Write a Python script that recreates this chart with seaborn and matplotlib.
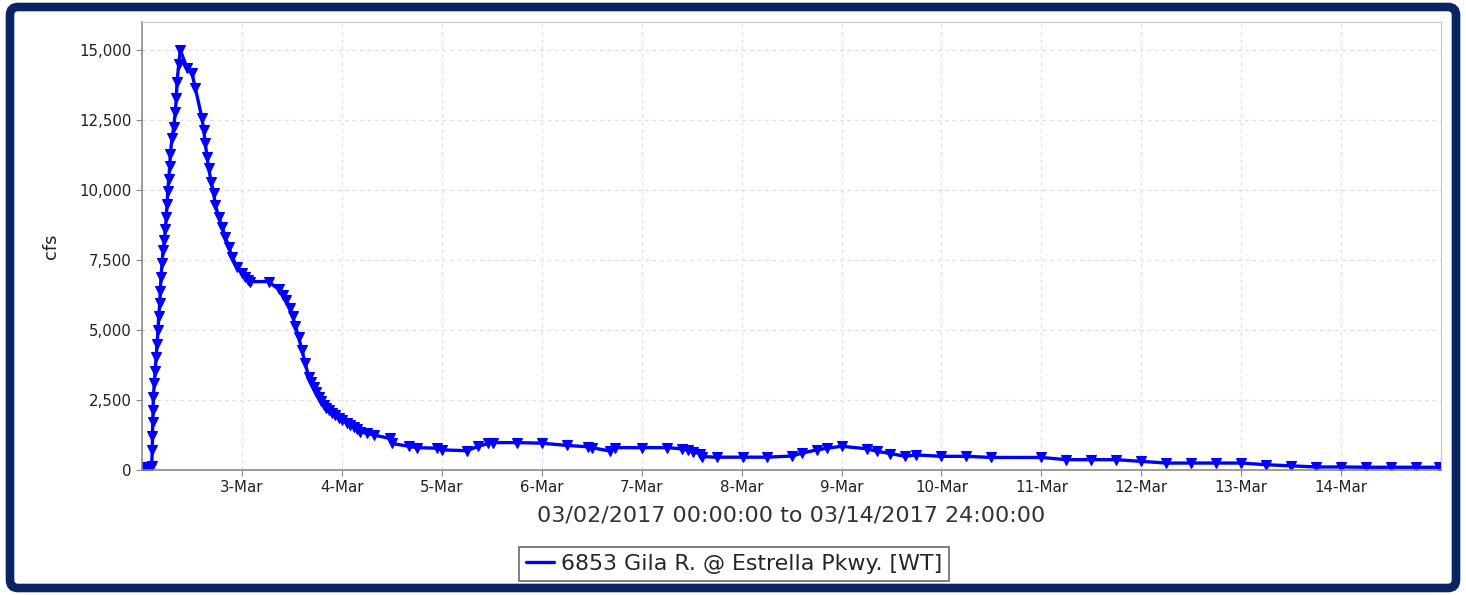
import numpy as np
import pandas as pd
import seaborn as sns
import matplotlib.pyplot as plt
from matplotlib.ticker import FuncFormatter
from matplotlib.patches import FancyBboxPatch
from matplotlib.lines import Line2D

# hours after 03/02/2017 00:00 and flow in cfs
hours = [0.3, 1.0, 1.7, 2.3, 2.45, 2.5, 2.57, 2.64, 2.71, 2.95, 3.19, 3.43, 3.6, 3.84,
         4.0, 4.25, 4.39, 4.56, 4.8, 5.04, 5.35, 5.59, 5.83, 6.0, 6.17, 6.41, 6.65, 6.79,
         7.2, 7.61, 7.99, 8.23, 8.4, 8.81, 9.19, 10.8, 12.0, 12.8, 14.4, 14.8, 15.2, 15.6,
         16.0, 16.6, 17.2, 17.6, 18.4, 19.2, 20.0, 20.8, 21.6, 22.8, 24.0, 24.8, 25.4, 26.0,
         30.4, 32.8, 33.8, 34.6, 35.6, 36.2, 36.8, 37.6, 38.4, 39.2, 40.0, 40.6, 41.2, 41.8,
         42.4, 43.0, 43.6, 44.2, 44.8, 45.6, 46.4, 47.2, 48.0, 49.2, 50.0, 50.8, 51.6, 52.4,
         54.0, 55.6, 59.6, 60.0, 64.0, 66.0, 70.8, 72.0, 78.0, 80.8, 83.2, 84.4, 90.0, 96.0,
         102.0, 107.2, 108.0, 112.4, 113.6, 120.0, 126.0, 129.6, 131.2, 132.4, 134.0, 134.4,
         138.0, 144.4, 150.0, 156.1, 158.4, 162.0, 164.6, 168.0, 174.0, 176.5, 179.7, 183.3,
         185.9, 192.0, 198.0, 204.0, 216.0, 222.0, 228.0, 234.0, 240.0, 246.0, 252.0, 258.0,
         264.0, 270.0, 276.0, 282.0, 288.0, 294.0, 300.0, 306.0, 311.5]
cfs = [120, 110, 100, 130, 700, 1200, 1700, 2150, 2600, 3100, 3550, 4050, 4500, 5000,
       5500, 5950, 6400, 6900, 7400, 7850, 8200, 8600, 9050, 9500, 9950, 10400, 10850, 11300,
       11850, 12250, 12800, 13300, 13850, 14500, 15000, 14350, 14170, 13630, 12560, 12140, 11670, 11190,
       10770, 10300, 9880, 9460, 9050, 8690, 8330, 7980, 7620, 7260, 7020, 6900, 6800, 6730,
       6730, 6450, 6250, 6080, 5780, 5500, 5150, 4760, 4290, 3810, 3330, 3150, 2980, 2800,
       2620, 2450, 2320, 2230, 2140, 2050, 1960, 1870, 1790, 1670, 1600, 1550, 1450, 1370,
       1310, 1250, 1130, 950, 850, 800, 780, 720, 690, 850, 950, 980, 980, 960,
       880, 830, 800, 680, 800, 800, 800, 760, 700, 640, 590, 480,
       460, 460, 460, 500, 600, 720, 780, 850, 760, 670, 590, 490,
       540, 490, 490, 450, 450, 370, 370, 370, 310, 250, 250, 250,
       250, 190, 150, 110, 110, 100, 100, 100, 100]

y_ticks = [0, 2500, 5000, 7500, 10000, 12500, 15000]
series_name = "6853 Gila R. @ Estrella Pkwy. [WT]"
x_title = "03/02/2017 00:00:00 to 03/14/2017 24:00:00"

start = pd.Timestamp("2017-03-02 00:00")
df = pd.DataFrame({"time": start + pd.to_timedelta(hours, unit="h"), "cfs": cfs})

sns.set_style("white")
fig = plt.figure(figsize=(14.66, 5.95), dpi=100)
ax = fig.add_axes([0.0969, 0.210, 0.8861, 0.753])

sns.lineplot(data=df, x="time", y="cfs", ax=ax, color="#0000ff", linewidth=2.4,
             marker="v", markersize=7.5, markeredgecolor="#0000ff", markeredgewidth=0.8,
             sort=False)

ax.set_xlim(start, start + pd.Timedelta(days=13))
ax.set_ylim(0, 16000)
ax.set_yticks(y_ticks)
ax.yaxis.set_major_formatter(FuncFormatter(lambda v, p: f"{v:,.0f}"))
ticks = pd.date_range("2017-03-03", "2017-03-14", freq="D")
ax.set_xticks(ticks)
ax.set_xticklabels([f"{t.day}-Mar" for t in ticks])

ax.grid(True, color="#e0e0e0", linestyle=(0, (3, 3)), linewidth=0.9)
ax.tick_params(axis="both", labelsize=10.8, length=4, width=0.8,
               direction="out", bottom=True, left=True, colors="#888888",
               labelcolor="#222222")
for side in ["top", "right"]:
    ax.spines[side].set_color("#c8c8c8")
for side in ["left", "bottom"]:
    ax.spines[side].set_color("#8a8a8a")
    ax.spines[side].set_linewidth(1.2)

ax.set_ylabel("cfs", fontsize=13, color="#222222", labelpad=14)
ax.set_xlabel(x_title, fontsize=16, color="#333333", labelpad=7)

handle = Line2D([0], [0], color="#0000ff", linewidth=2.4)
leg = fig.legend([handle], [series_name], loc="center", bbox_to_anchor=(0.5007, 0.052),
                 fontsize=15.9, frameon=True, fancybox=False, handlelength=1.3,
                 handletextpad=0.3, borderpad=0.3, borderaxespad=0)
leg.get_frame().set_edgecolor("#444444")
leg.get_frame().set_linewidth(1.2)

# dark frame round the whole picture
border = FancyBboxPatch((10, 7), 1446, 581, boxstyle="round,pad=0,rounding_size=8",
                        transform=None, facecolor="none", edgecolor="#0a2463",
                        linewidth=6.2, zorder=10)
fig.patches.append(border)

fig.savefig("out.png", dpi=100, facecolor="white")
